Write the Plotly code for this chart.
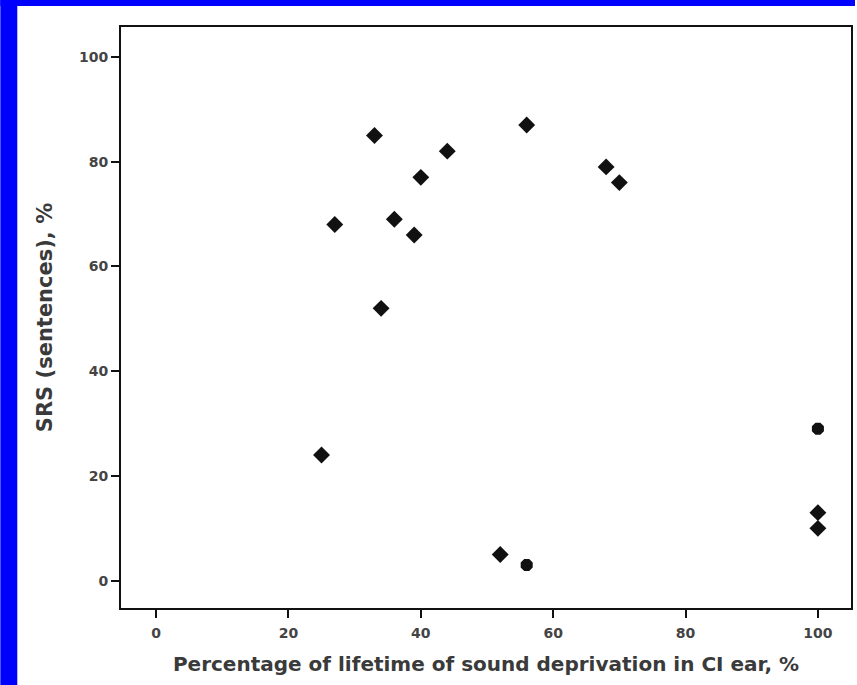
import plotly.graph_objects as go

# Data
deprivation_pct = [25, 27, 33, 34, 36, 39, 40, 44, 56, 68, 70, 52, 100, 100]
srs_sentences = [24, 68, 85, 52, 69, 66, 77, 82, 87, 79, 76, 5, 13, 10]
# Points that appear as overlapping markers (rounded look)
overlap_x = [56, 100]
overlap_y = [3, 29]

x_ticks = [0, 20, 40, 60, 80, 100]
y_ticks = [0, 20, 40, 60, 80, 100]

W, H = 857, 685
ML, MR, MT, MB = 121, 4, 27, 77
PW, PH = W - ML - MR, H - MT - MB

def px_to_paper_x(px):
    return (px - ML) / PW

def px_to_paper_y(py):
    return (H - MB - py) / PH

fig = go.Figure()
fig.add_trace(go.Scatter(
    x=deprivation_pct, y=srs_sentences, mode="markers",
    marker=dict(symbol="diamond", size=13, color="#111111"),
    showlegend=False,
))
fig.add_trace(go.Scatter(
    x=overlap_x, y=overlap_y, mode="markers",
    marker=dict(symbol="octagon", size=13, color="#111111"),
    showlegend=False,
))

font_family = "DejaVu Sans, Arial, sans-serif"
axis_common = dict(
    showline=True, linecolor="#111111", linewidth=2, mirror=True,
    ticks="outside", ticklen=8, tickwidth=2, tickcolor="#111111",
    showgrid=False, zeroline=False,
    tickfont=dict(family=font_family, size=14, color="#444444", weight="bold"),
)

fig.update_layout(
    width=W, height=H,
    margin=dict(l=ML, r=MR, t=MT, b=MB),
    paper_bgcolor="white", plot_bgcolor="white",
    xaxis=dict(
        range=[-5.3, 105], tickvals=x_ticks, ticktext=[str(v) for v in x_ticks],
        ticklabelstandoff=3,
        title=dict(text="Percentage of lifetime of sound deprivation in CI ear, %",
                   font=dict(family=font_family, size=20, color="#3a3a3a", weight="bold"),
                   standoff=17),
        **axis_common,
    ),
    yaxis=dict(
        range=[-5.2, 105.7], tickvals=y_ticks, ticktext=[str(v) for v in y_ticks],
        title=dict(text="SRS (sentences), %",
                   font=dict(family=font_family, size=21, color="#3a3a3a", weight="bold"),
                   standoff=21),
        **axis_common,
    ),
    shapes=[
        dict(type="rect", xref="paper", yref="paper", layer="below",
             x0=px_to_paper_x(0), x1=px_to_paper_x(17),
             y0=px_to_paper_y(H), y1=px_to_paper_y(0),
             fillcolor="#0000ff", line=dict(width=0)),
        dict(type="rect", xref="paper", yref="paper", layer="below",
             x0=px_to_paper_x(0), x1=px_to_paper_x(W),
             y0=px_to_paper_y(6), y1=px_to_paper_y(0),
             fillcolor="#0000ff", line=dict(width=0)),
    ],
)

fig.write_html("out.html")
